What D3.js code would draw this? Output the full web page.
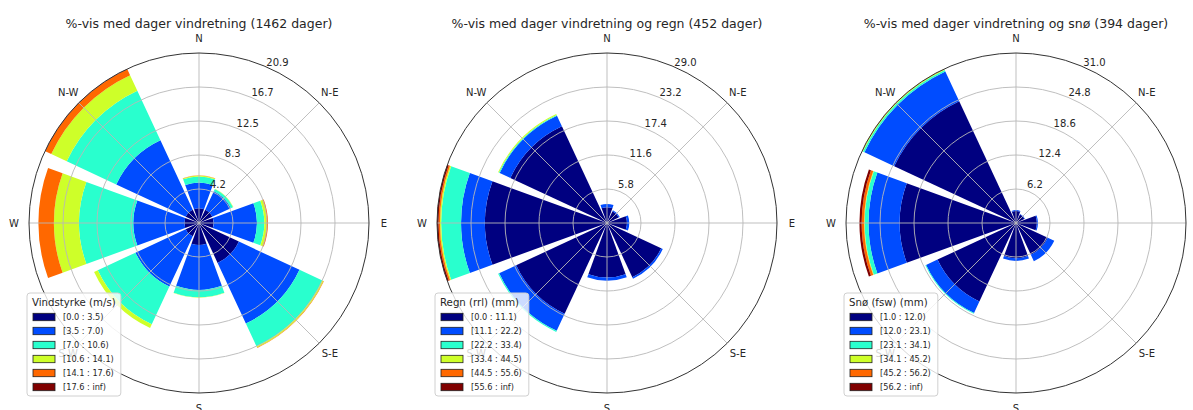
<!DOCTYPE html>
<html>
<head>
<meta charset="utf-8">
<script src="https://cdn.jsdelivr.net/npm/d3@7"></script>
<style>
  body { margin: 0; background: #fff; }
  svg { display: block; font-family: "DejaVu Sans", sans-serif; }
</style>
</head>
<body>
<div id="chart"></div>
<script>
// directions, clockwise from north
const directions = ["N", "N-E", "E", "S-E", "S", "S-W", "W", "N-W"];
const binColors = ["#000080", "#004cff", "#29ffce", "#ceff29", "#ff6800", "#800000"];

// wind speed
const windTitle = "%-vis med dager vindretning (1462 dager)";
const windLegendTitle = "Vindstyrke (m/s)";
const windBins = ["[0.0 : 3.5)", "[3.5 : 7.0)", "[7.0 : 10.6)", "[10.6 : 14.1)", "[14.1 : 17.6)", "[17.6 : inf)"];
const windTicks = ["4.2", "8.3", "12.5", "16.7", "20.9"];
// % per direction (rows) and bin (columns)
const windFreq = [
  [1.8, 3.15, 0.75, 0.1, 0.05, 0],
  [1.8, 2.5, 0.3, 0.05, 0, 0],
  [1.8, 5.3, 0.9, 0.3, 0.15, 0],
  [5.4, 8.2, 3.1, 0.15, 0.05, 0],
  [2.7, 5.5, 0.9, 0.05, 0, 0],
  [1.8, 6.8, 5.1, 0.5, 0, 0],
  [1.8, 6.25, 6.65, 3.1, 1.9, 0],
  [1.8, 9.4, 6.7, 2.1, 0.8, 0.05]
];

// rain
const rainTitle = "%-vis med dager vindretning og regn (452 dager)";
const rainLegendTitle = "Regn (rrl) (mm)";
const rainBins = ["[0.0 : 11.1)", "[11.1 : 22.2)", "[22.2 : 33.4)", "[33.4 : 44.5)", "[44.5 : 55.6)", "[55.6 : inf)"];
const rainTicks = ["5.8", "11.6", "17.4", "23.2", "29.0"];
const rainFreq = [
  [2.7, 0.55, 0, 0, 0, 0],
  [2.2, 0.2, 0, 0, 0, 0],
  [3.4, 0.4, 0, 0, 0, 0],
  [10.2, 0.3, 0, 0, 0, 0],
  [9.3, 0.55, 0, 0, 0, 0],
  [17.1, 3.2, 0.2, 0, 0, 0],
  [20.8, 4.1, 3.4, 0.2, 0.25, 0.25],
  [18.2, 2.0, 0.15, 0.15, 0, 0]
];

// snow
const snowTitle = "%-vis med dager vindretning og snø (394 dager)";
const snowLegendTitle = "Snø (fsw) (mm)";
const snowBins = ["[1.0 : 12.0)", "[12.0 : 23.1)", "[23.1 : 34.1)", "[34.1 : 45.2)", "[45.2 : 56.2)", "[56.2 : inf)"];
const snowTicks = ["6.2", "12.4", "18.6", "24.8", "31.0"];
const snowFreq = [
  [2.2, 0.15, 0, 0, 0, 0],
  [1.7, 0.1, 0, 0, 0, 0],
  [3.8, 0.2, 0, 0, 0, 0],
  [6.4, 1.3, 0, 0, 0, 0],
  [6.4, 0.5, 0, 0, 0, 0],
  [15.8, 2.3, 0.15, 0, 0, 0],
  [21.2, 5.7, 0.7, 0.1, 0.45, 0.4],
  [24.5, 6.0, 0.3, 0.15, 0.05, 0]
];

const width = 1193, height = 410;
const R = 170;
const cy = 223;

const svg = d3.select("#chart").append("svg")
  .attr("width", width)
  .attr("height", height);

const roses = [
  { cx: 199, title: windTitle, legendTitle: windLegendTitle, bins: windBins, ticks: windTicks, freq: windFreq },
  { cx: 607, title: rainTitle, legendTitle: rainLegendTitle, bins: rainBins, ticks: rainTicks, freq: rainFreq },
  { cx: 1016, title: snowTitle, legendTitle: snowLegendTitle, bins: snowBins, ticks: snowTicks, freq: snowFreq }
];

roses.forEach(drawRose);

function drawRose(opt) {
  const g = svg.append("g").attr("transform", "translate(" + opt.cx + "," + cy + ")");

  const totals = opt.freq.map(d => d3.sum(d));
  const rmax = d3.max(totals);
  const r = d3.scaleLinear().domain([0, rmax]).range([0, R]);
  const angle = d3.scaleLinear().domain([0, directions.length]).range([0, 2 * Math.PI]);
  const half = 20 * Math.PI / 180;

  // stacked bars
  const stack = d3.stack().keys(d3.range(binColors.length));
  const series = stack(opt.freq);

  series.forEach((s, k) => {
    g.append("g").selectAll("path")
      .data(s.map((d, i) => ({ lo: d[0], hi: d[1], i: i })).filter(d => d.hi > d.lo))
      .join("path")
      .attr("fill", binColors[k])
      .attr("d", d => d3.arc()
        .innerRadius(r(d.lo))
        .outerRadius(r(d.hi))
        .startAngle(angle(d.i) - half)
        .endAngle(angle(d.i) + half)());
  });

  // grid
  const ringVals = d3.range(1, 6).map(k => rmax * k / 5);
  g.append("g").selectAll("circle")
    .data(ringVals.slice(0, 4))
    .join("circle")
    .attr("r", d => r(d))
    .attr("fill", "none")
    .attr("stroke", "#b8b8b8")
    .attr("stroke-width", 0.9);

  g.append("g").selectAll("line")
    .data(directions)
    .join("line")
    .attr("x1", 0).attr("y1", 0)
    .attr("x2", (d, i) => R * Math.sin(angle(i)))
    .attr("y2", (d, i) => -R * Math.cos(angle(i)))
    .attr("stroke", "#b8b8b8")
    .attr("stroke-width", 0.9);

  g.append("circle")
    .attr("r", R)
    .attr("fill", "none")
    .attr("stroke", "#333")
    .attr("stroke-width", 1);

  // radial labels
  const la = 26 * Math.PI / 180;
  g.append("g").selectAll("text")
    .data(opt.ticks)
    .join("text")
    .attr("x", (d, k) => (r(ringVals[k]) + 9) * Math.sin(la))
    .attr("y", (d, k) => -(r(ringVals[k]) + 9) * Math.cos(la))
    .attr("text-anchor", "middle")
    .attr("dominant-baseline", "central")
    .attr("font-size", 10)
    .attr("fill", "#262626")
    .text(d => d);

  // direction labels
  g.append("g").selectAll("text")
    .data(directions)
    .join("text")
    .attr("x", (d, i) => 185 * Math.sin(angle(i)))
    .attr("y", (d, i) => -185 * Math.cos(angle(i)))
    .attr("text-anchor", "middle")
    .attr("dominant-baseline", "central")
    .attr("font-size", 10)
    .attr("fill", "#262626")
    .text(d => d);

  // title
  g.append("text")
    .attr("x", 0)
    .attr("y", 23 - cy)
    .attr("text-anchor", "middle")
    .attr("dominant-baseline", "central")
    .attr("font-size", 12.5)
    .attr("fill", "#262626")
    .text(opt.title);

  // legend
  const lx = -172, ly = 293 - cy;
  const leg = g.append("g").attr("transform", "translate(" + lx + "," + ly + ")");
  const box = leg.append("rect")
    .attr("height", 103)
    .attr("rx", 3)
    .attr("fill", "#fff")
    .attr("fill-opacity", 0.8)
    .attr("stroke", "#d0d0d0")
    .attr("stroke-width", 1);

  const lt = leg.append("text")
    .attr("x", 5)
    .attr("y", 9.5)
    .attr("dominant-baseline", "central")
    .attr("font-size", 10.2)
    .attr("fill", "#262626")
    .text(opt.legendTitle);

  const item = leg.selectAll("g.item")
    .data(opt.bins)
    .join("g")
    .attr("class", "item")
    .attr("transform", (d, i) => "translate(0," + (24 + 14 * i) + ")");

  item.append("rect")
    .attr("x", 6).attr("y", -3.7)
    .attr("width", 22).attr("height", 7.4)
    .attr("fill", (d, i) => binColors[i])
    .attr("stroke", "#222")
    .attr("stroke-width", 0.8);

  const itemText = item.append("text")
    .attr("x", 36)
    .attr("y", 0)
    .attr("dominant-baseline", "central")
    .attr("font-size", 8.2)
    .attr("fill", "#262626")
    .text(d => d);

  let w = lt.node().getComputedTextLength() + 10;
  itemText.each(function () { w = Math.max(w, 36 + this.getComputedTextLength() + 7); });
  box.attr("width", w);
}
</script>
</body>
</html>
